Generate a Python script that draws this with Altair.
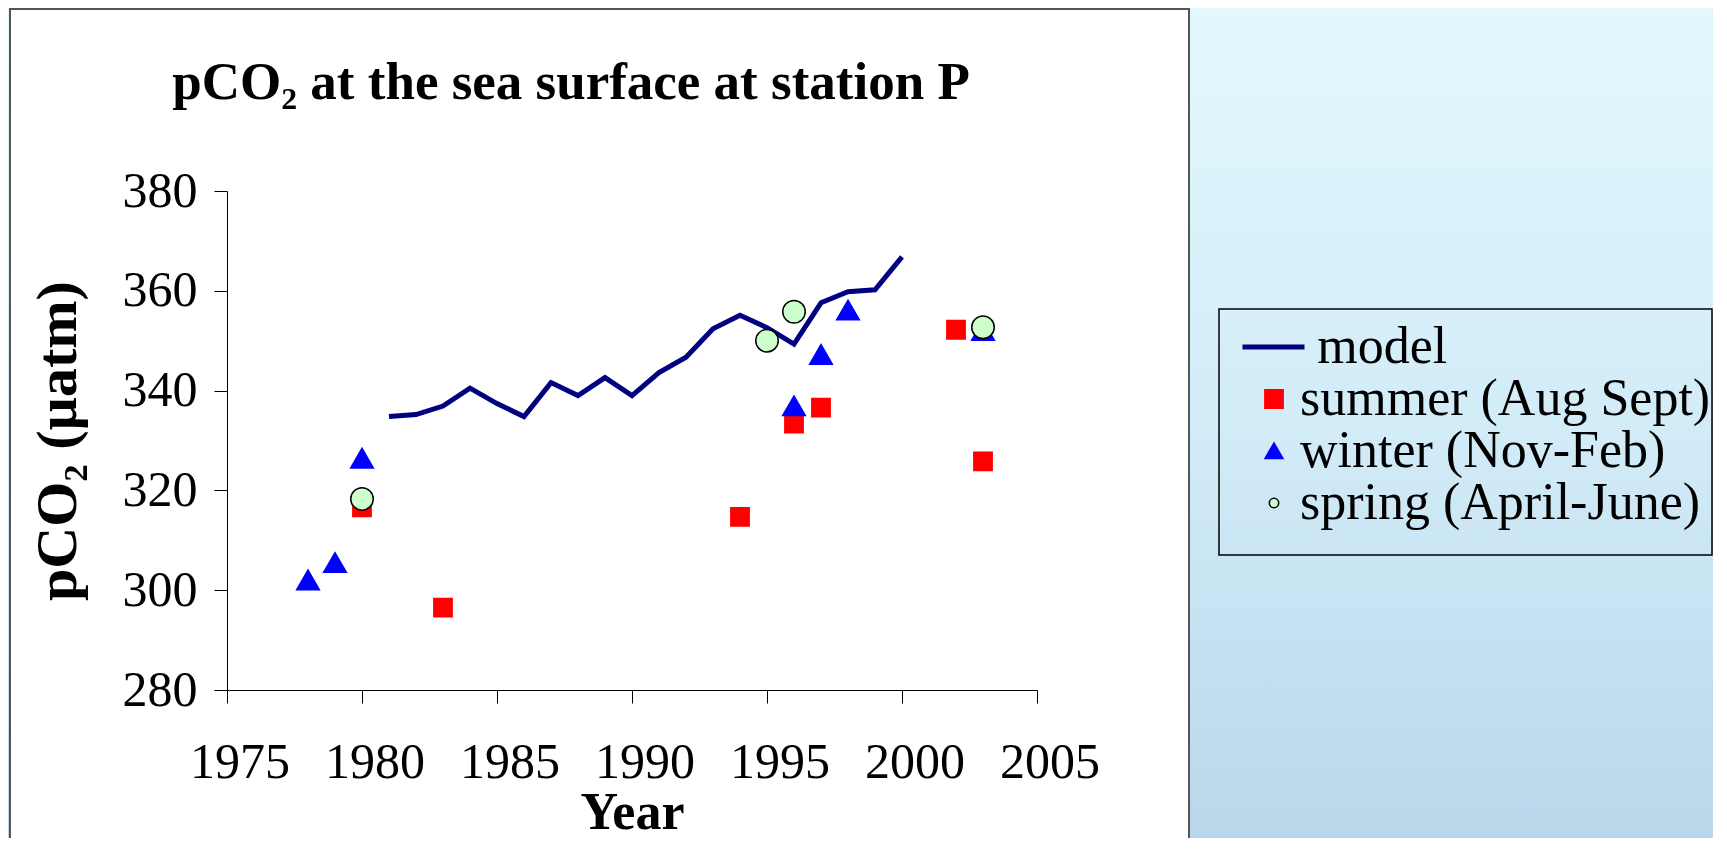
import altair as alt
import pandas as pd

# ---------------- data ----------------
series_names = ["model", "summer (Aug Sept)", "winter (Nov-Feb)", "spring (April-June)"]

model_years = [1981, 1982, 1983, 1984, 1985, 1986, 1987, 1988, 1989, 1990,
               1991, 1992, 1993, 1994, 1995, 1996, 1997, 1998, 1999, 2000]
model_pco2 = [334.8, 335.2, 336.9, 340.5, 337.4, 334.8, 341.6, 339.0, 342.6, 339.0,
              343.6, 346.7, 352.4, 355.1, 352.6, 349.3, 357.6, 359.8, 360.2, 366.8]

summer_years = [1980, 1983, 1994, 1996, 1997, 2002, 2003]
summer_pco2 = [316.6, 296.5, 314.7, 333.4, 336.6, 352.2, 325.8]

winter_years = [1978, 1979, 1980, 1996, 1997, 1998, 2003]
winter_pco2 = [302.0, 305.5, 326.4, 336.9, 347.2, 356.1, 352.0]

spring_years = [1980, 1995, 1996, 2003]
spring_pco2 = [318.3, 350.0, 355.8, 352.7]

x_ticks = [1975, 1980, 1985, 1990, 1995, 2000, 2005]
y_ticks = [280, 300, 320, 340, 360, 380]

# ---------------- tables ----------------
model_df = pd.DataFrame({"year": model_years, "pco2": model_pco2, "series": series_names[0]})
obs_df = pd.concat([
    pd.DataFrame({"year": summer_years, "pco2": summer_pco2, "series": series_names[1]}),
    pd.DataFrame({"year": winter_years, "pco2": winter_pco2, "series": series_names[2]}),
    pd.DataFrame({"year": spring_years, "pco2": spring_pco2, "series": series_names[3]}),
], ignore_index=True)
dummy = pd.DataFrame({"d": [0]})

FONT = "Liberation Serif"
ZW = "\u200b"  # zero-width lead so the spacing after it is kept

# ---------------- styles ----------------
line_path = "M-3.94,0H3.81"
circle_path = "M-0.59,0A0.59,0.59,0,1,1,0.59,0A0.59,0.59,0,1,1,-0.59,0Z"
shape_scale = alt.Scale(domain=series_names, range=[line_path, "square", "triangle-up", circle_path])
fill_scale = alt.Scale(domain=series_names, range=["transparent", "#ff0000", "#0000ff", "#ccffcc"])
stroke_scale = alt.Scale(domain=series_names, range=["#000080", "#ff0000", "#0000ff", "#000000"])
width_scale = alt.Scale(type="point", domain=series_names, range=[5, 1.5])

legend = alt.Legend(
    title=None,
    orient="none",
    legendX=1021,
    legendY=130,
    padding=0,
    labelFont=FONT,
    labelFontSize=52,
    labelColor="black",
    labelOffset=0,
    labelLimit=1000,
    labelExpr="datum.value === 'model' ? '" + ZW + "\u2004' + datum.label : datum.label",
    symbolSize=256,
    symbolOpacity=1,
    symbolFillColor="#ccffcc",
    symbolStrokeColor="#000000",
    rowPadding=0,
)

x_scale = alt.Scale(domain=[1975, 2005], nice=False, zero=False)
y_scale = alt.Scale(domain=[280, 380], nice=False, zero=False)

x_axis = alt.Axis(
    values=x_ticks, format="d", title="Year", grid=False, zindex=1,
    tickSize=13, tickColor="black", domainColor="black",
    labelFont=FONT, labelFontSize=50, labelColor="black", labelPadding=34,
    labelExpr="'" + ZW + "\u2002' + datum.label",
    labelFlush=False, labelOverlap=False,
    titleFont=FONT, titleFontSize=52, titleFontWeight="bold", titleColor="black", titlePadding=0,
)
y_axis = alt.Axis(
    values=y_ticks, title="pCO₂ (µatm)", grid=False, zindex=1,
    tickSize=13, tickColor="black", domainColor="black",
    labelFont=FONT, labelFontSize=50, labelColor="black", labelPadding=17,
    titleFont=FONT, titleFontSize=58, titleFontWeight="bold", titleColor="black", titlePadding=35,
)

X = alt.X("year:Q", scale=x_scale, axis=x_axis)
Y = alt.Y("pco2:Q", scale=y_scale, axis=y_axis)
SW = alt.StrokeWidth("series:N", scale=width_scale, legend=legend)

# ---------------- decoration (slide background, white panel, legend frame) ----------------
bg = alt.Chart(dummy).mark_rect(
    fill=alt.Gradient(
        gradient="linear", x1=0, x2=0, y1=0, y2=1,
        stops=[alt.GradientStop(color="#e2f8fc", offset=0),
               alt.GradientStop(color="#d2ecf8", offset=0.5),
               alt.GradientStop(color="#bad6ea", offset=1)],
    )
).encode(x=alt.value(-219), x2=alt.value(1486), y=alt.value(-183), y2=alt.value(647))

panel = alt.Chart(dummy).mark_rect(fill="white", stroke="#555555", strokeWidth=2).encode(
    x=alt.value(-217), x2=alt.value(962), y=alt.value(-182), y2=alt.value(700)
)

legend_frame = alt.Chart(dummy).mark_rect(fill="transparent", stroke="black", strokeWidth=1.5).encode(
    x=alt.value(992), x2=alt.value(1485), y=alt.value(118), y2=alt.value(364)
)

# ---------------- data marks ----------------
line = alt.Chart(model_df).mark_line().encode(
    x=X, y=Y,
    stroke=alt.Stroke("series:N", scale=stroke_scale, legend=legend),
    strokeWidth=SW,
)

points = alt.Chart(obs_df).mark_point(filled=True, opacity=1).encode(
    x=X, y=Y,
    shape=alt.Shape("series:N", scale=shape_scale, legend=legend),
    fill=alt.Fill("series:N", scale=fill_scale, legend=legend),
    stroke=alt.Stroke("series:N", scale=stroke_scale, legend=legend),
    strokeWidth=SW,
    size=alt.when(alt.datum.series == series_names[3]).then(alt.value(1453))
            .when(alt.datum.series == series_names[2]).then(alt.value(428))
            .otherwise(alt.value(256)),
)

chart = alt.layer(bg, panel, legend_frame, line, points).properties(
    width=810,
    height=499,
    title=alt.Title(
        "pCO₂ at the sea surface at station P",
        font=FONT, fontSize=53, fontWeight="bold", color="black", zindex=1,
        anchor="middle", frame="group", dx=-61, dy=144, offset=0, baseline="alphabetic",
    ),
    autosize=alt.AutoSizeParams(type="none"),
    padding={"left": 219, "top": 183, "right": 676, "bottom": 148},
    background="#d2ecf8",
).configure_view(strokeWidth=0)

chart.save("out.html", embed_options={"renderer": "svg", "actions": False})
